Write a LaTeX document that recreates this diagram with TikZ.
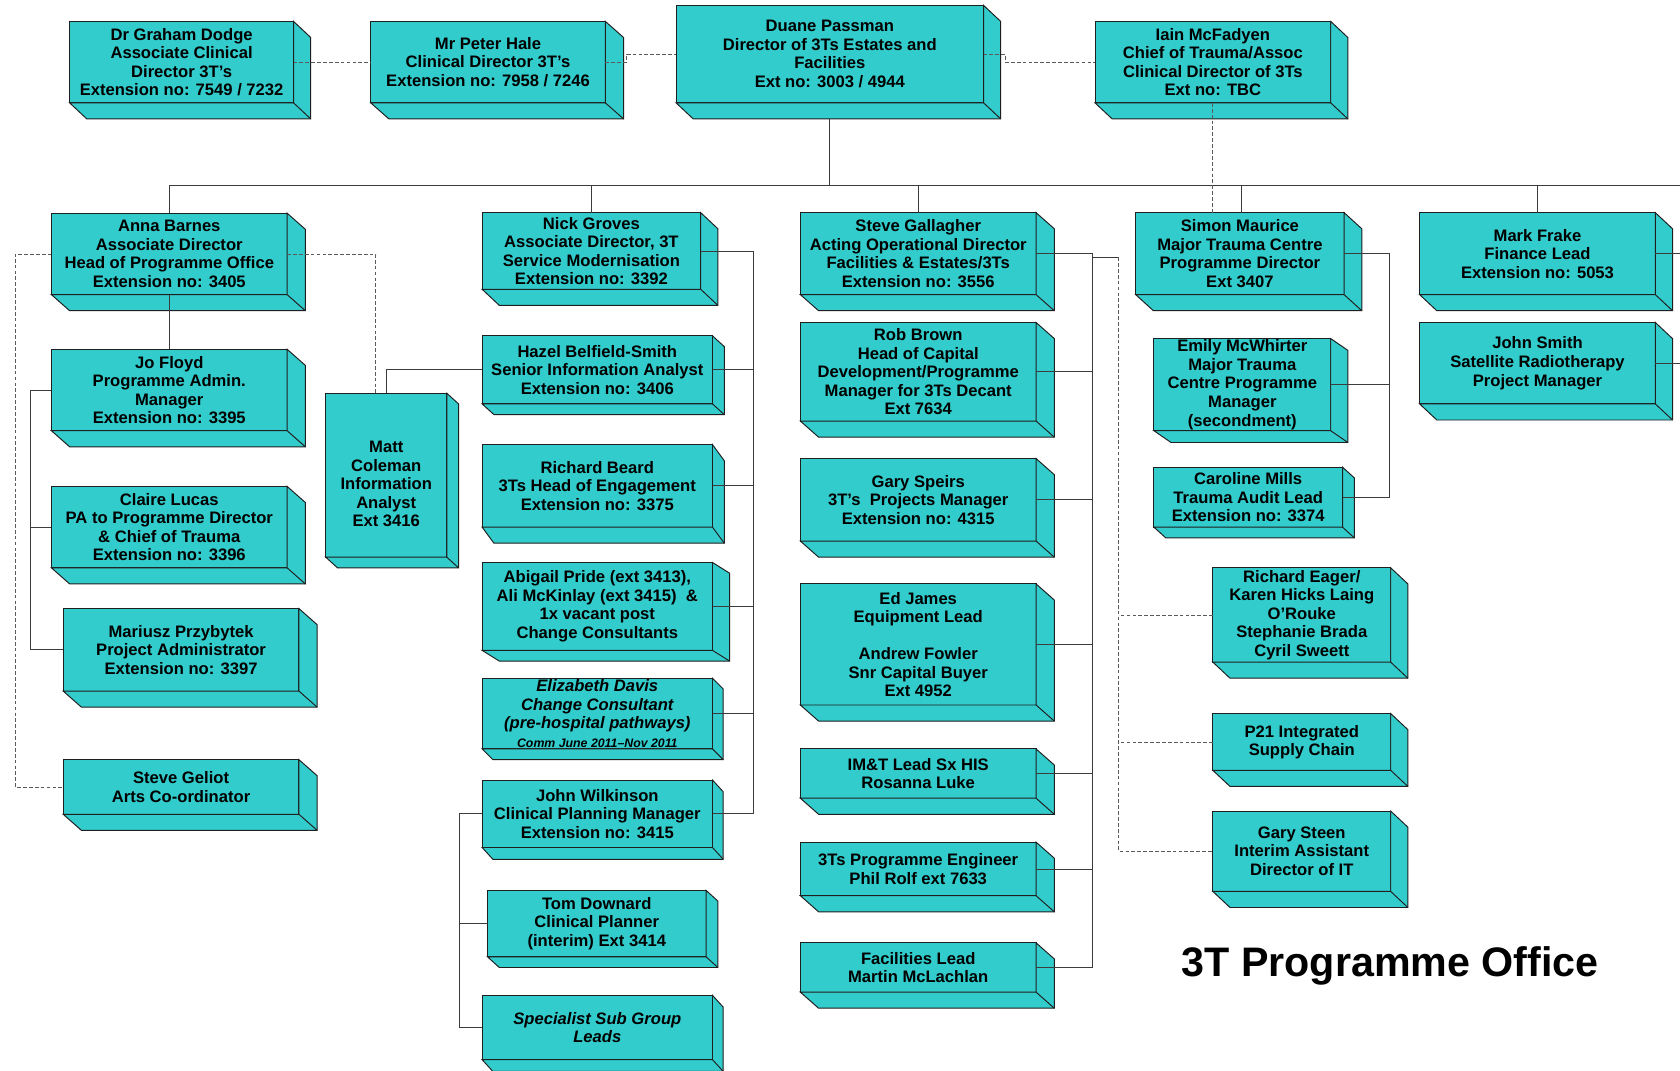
\documentclass[tikz,border=0pt]{standalone}
\usepackage{fontspec}
\setmainfont{Liberation Sans}
\usetikzlibrary{calc}
\definecolor{boxfill}{HTML}{33CCCC}
\definecolor{boxedge}{HTML}{1F1F1F}
\definecolor{conncol}{HTML}{3C3C3C}
\definecolor{dashcol}{HTML}{5A5A5A}
\newcommand\boxfont{\bfseries\fontsize{15.5}{17.3}\selectfont}
\newcommand\smallital{\fontsize{11.5}{13}\selectfont}
% #1 extra opts, #2 name, #3 x1, #4 y1, #5 x2, #6 y2, #7 dx, #8 dy, #9 text
\newcommand\cbox[9][]{%
  \node[orgbox,#1,minimum width={(#5-#3)*1pt},minimum height={(#6-#4)*1pt}] (#2) at ({(#3+#5)/2},{(#4+#6)/2}) {#9};
  \filldraw[sideface] (#2.north east) -- ++(#7,#8) -- ($(#2.south east)+(#7,#8)$) -- ($(#2.south west)+(#7,#8)$) -- (#2.south west) -- (#2.south east) -- cycle;
  \draw[sideface] (#2.south east) -- ++(#7,#8);
}
\begin{document}
\begin{tikzpicture}[x=1pt,y=-1pt,
  orgbox/.style={rectangle, draw=boxedge, fill=boxfill, line width=0.9pt, inner sep=0pt, outer sep=0pt, align=center, font=\boxfont, text=black},
  sideface/.style={draw=boxedge, fill=boxfill, line width=0.9pt, line join=miter},
  conn/.style={draw=conncol, line width=0.8pt},
  dashline/.style={draw=dashcol, line width=0.8pt, dash pattern=on 3.5pt off 2pt},
  ital/.style={font=\boxfont\itshape},
  titlestyle/.style={font=\bfseries\fontsize{38.5}{44}\selectfont, inner sep=0pt}]

\useasboundingbox[fill=white] (0,0) rectangle (1568,999);

% ---------- top row ----------
\cbox{dodge}{65}{20}{274}{96}{16}{15}{Dr Graham Dodge\\Associate Clinical\\Director 3T’s\\Extension no: 7549 / 7232}
\cbox{hale}{346}{20}{565}{96}{17}{15}{Mr Peter Hale\\Clinical Director 3T’s\\Extension no: 7958 / 7246}
\cbox{duane}{631}{5}{918}{96}{16}{15}{Duane Passman\\Director of 3Ts Estates and\\Facilities\\Ext no: 3003 / 4944}
\cbox{iain}{1022}{20}{1242}{96}{16}{15}{Iain McFadyen\\Chief of Trauma/Assoc\\Clinical Director of 3Ts\\Ext no: TBC}

% ---------- column 1 ----------
\cbox{anna}{48}{199}{268}{275}{17}{15}{Anna Barnes\\Associate Director\\Head of Programme Office\\Extension no: 3405}
\cbox{jo}{48}{326}{268}{402}{17}{15}{Jo Floyd\\Programme Admin.\\Manager\\Extension no: 3395}
\cbox{claire}{48}{454}{268}{530}{17}{15}{Claire Lucas\\PA to Programme Director\\\& Chief of Trauma\\Extension no: 3396}
\cbox{mariusz}{59}{568}{279}{645}{17}{15}{Mariusz Przybytek\\Project Administrator\\Extension no: 3397}
\cbox{geliot}{59}{709}{279}{760}{17}{15}{Steve Geliot\\Arts Co-ordinator}
\cbox{matt}{304}{367}{417}{520}{11}{10}{\raisebox{-10pt}[\height][\depth]{\begin{tabular}{@{}c@{}}Matt\\Coleman\\Information\\Analyst\\Ext 3416\end{tabular}}}

% ---------- column 2 ----------
\cbox{nick}{450}{198.5}{654}{270}{16}{15}{Nick Groves\\Associate Director, 3T\\Service Modernisation\\Extension no: 3392}
\cbox{hazel}{450}{313.5}{665}{377}{11}{10}{Hazel Belfield-Smith\\Senior Information Analyst\\Extension no: 3406}
\cbox{beard}{450}{415}{665}{492}{11}{15}{Richard Beard\\3Ts Head of Engagement\\Extension no: 3375}
\cbox{abigail}{450}{525}{665}{607}{16}{10}{Abigail Pride (ext 3413),\\Ali McKinlay (ext 3415)~ \&\\1x vacant post\\Change Consultants}
\cbox[ital]{eliz}{450}{633}{665}{699}{10}{10}{Elizabeth Davis\\Change Consultant\\(pre-hospital pathways)\\{\smallital Comm June 2011–Nov 2011}}
\cbox{wilk}{450}{728}{665}{791}{10}{11}{John Wilkinson\\Clinical Planning Manager\\Extension no: 3415}
\cbox{tom}{455}{831}{659}{893}{11}{10}{Tom Downard\\Clinical Planner\\(interim) Ext 3414}
\cbox[ital]{spec}{450}{929}{665}{989}{10}{11}{Specialist Sub Group\\Leads}

% ---------- column 3 ----------
\cbox{gall}{747}{198.5}{967}{275}{17}{15}{Steve Gallagher\\Acting Operational Director\\Facilities \& Estates/3Ts\\Extension no: 3556}
\cbox{rob}{747}{301}{967}{393}{17}{15}{Rob Brown\\Head of Capital\\Development/Programme\\Manager for 3Ts Decant\\Ext 7634}
\cbox{speirs}{747}{428}{967}{505}{17}{15}{Gary Speirs\\3T’s~ Projects Manager\\Extension no: 4315}
\cbox{ed}{747}{545}{967}{658}{17}{15}{Ed James\\Equipment Lead\\~\\Andrew Fowler\\Snr Capital Buyer\\Ext 4952}
\cbox{imt}{747}{699}{967}{745}{17}{15}{IM\&T Lead Sx HIS\\Rosanna Luke}
\cbox{eng}{747}{786}{967}{836}{17}{15}{3Ts Programme Engineer\\Phil Rolf ext 7633}
\cbox{fac}{747}{880}{967}{926}{17}{15}{Facilities Lead\\Martin McLachlan}

% ---------- column 4 ----------
\cbox{simon}{1060}{198.5}{1254.5}{275}{16.5}{15}{Simon Maurice\\Major Trauma Centre\\Programme Director\\Ext 3407}
\cbox{emily}{1077}{316}{1242}{402}{16}{11}{Emily McWhirter\\Major Trauma\\Centre Programme\\Manager\\(secondment)}
\cbox{caroline}{1077}{436}{1253}{492}{11}{10}{Caroline Mills\\Trauma Audit Lead\\Extension no: 3374}
\cbox{eager}{1132}{530}{1298}{618}{16}{15}{Richard Eager/\\Karen Hicks Laing\\O’Rouke\\Stephanie Brada\\Cyril Sweett}
\cbox{ptwo}{1132}{666}{1298}{719}{16}{15}{P21 Integrated\\Supply Chain}
\cbox{steen}{1132}{757}{1298}{832}{16}{15}{Gary Steen\\Interim Assistant\\Director of IT}

% ---------- column 5 ----------
\cbox{mark}{1325}{198.5}{1545}{275}{16}{15}{Mark Frake\\Finance Lead\\Extension no: 5053}
\cbox{smith}{1325}{301}{1545}{377}{16}{15}{John Smith\\Satellite Radiotherapy\\Project Manager}

% ---------- title ----------
\node[titlestyle, anchor=base] (title) at (1297.5,911) {3T Programme Office};

% ---------- coordinates ----------
\coordinate (busL) at (158,173);
\coordinate (busR) at (1568,173);
\coordinate (edgeR) at (1568,0);
\coordinate (cA) at (28,0);
\coordinate (cB) at (703,0);
\coordinate (cC) at (429,0);
\coordinate (cD) at (1020,0);
\coordinate (cE) at (1297,0);
\coordinate (dtop) at (1044,240);

% ---------- top connectors ----------
\draw[dashline] (dodge.east) -- (hale.west);
\draw[dashline] (hale.east) -- ++(20,0) |- (duane.west);
\draw[dashline] (duane.east) -- ++(20,0) |- (iain.west);
\draw[conn] ($(duane.south)+(0,15)$) -- (duane.south |- busL);
\draw[conn] (busL) -- (busR);
\draw[conn] (anna.north) -- (anna.north |- busL);
\draw[conn] (nick.north) -- (nick.north |- busL);
\draw[conn] (gall.north) -- (gall.north |- busL);
\draw[conn] ($(simon.north)+(1.5,0)$) -- ($(simon.north |- busL)+(1.5,0)$);
\draw[conn] (mark.north) -- (mark.north |- busL);
\draw[dashline] (iain.south) -- (iain.south |- simon.north);

% ---------- column 1 connectors ----------
\draw[conn] (anna.south) -- (jo.north);
\draw[conn] (jo.west) -| (cA |- mariusz.west) -- (mariusz.west);
\draw[conn] (claire.west) -- (claire.west -| cA);
\draw[dashline] (anna.west) -- ++(-34,0) |- (geliot.west);
\draw[dashline] (anna.east) -| ($(matt.north)+(-10,0)$);
\draw[conn] (matt.north) |- (hazel.west);

% ---------- column 2 connectors ----------
\draw[conn] (nick.east) -| (cB |- wilk.east) -- (wilk.east);
\draw[conn] (hazel.east) -- (hazel.east -| cB);
\draw[conn] (beard.east) -- (beard.east -| cB);
\draw[conn] (abigail.east) -- (abigail.east -| cB);
\draw[conn] (eliz.east) -- (eliz.east -| cB);
\draw[conn] (wilk.west) -| (cC |- spec.west) -- (spec.west);
\draw[conn] (tom.west) -- (tom.west -| cC);

% ---------- column 3 connectors ----------
\draw[conn] (gall.east) -| (cD |- fac.east) -- (fac.east);
\draw[conn] (rob.east) -- (rob.east -| cD);
\draw[conn] (speirs.east) -- (speirs.east -| cD);
\draw[conn] (ed.east) -- (ed.east -| cD);
\draw[conn] (imt.east) -- (imt.east -| cD);
\draw[conn] (eng.east) -- (eng.east -| cD);
\draw[conn] (cD |- dtop) -- (dtop);
\draw[dashline] (dtop) |- (steen.west);
\draw[dashline] (eager.west) -- (eager.west -| dtop);
\draw[dashline] (ptwo.west) -- (ptwo.west -| dtop);

% ---------- column 4 connectors ----------
\draw[conn] (simon.east) -| (cE |- caroline.east) -- (caroline.east);
\draw[conn] (emily.east) -- (emily.east -| cE);

% ---------- column 5 connectors ----------
\draw[conn] (mark.east) -- (mark.east -| edgeR);
\draw[conn] (smith.east) -- (smith.east -| edgeR);

\end{tikzpicture}
\end{document}
